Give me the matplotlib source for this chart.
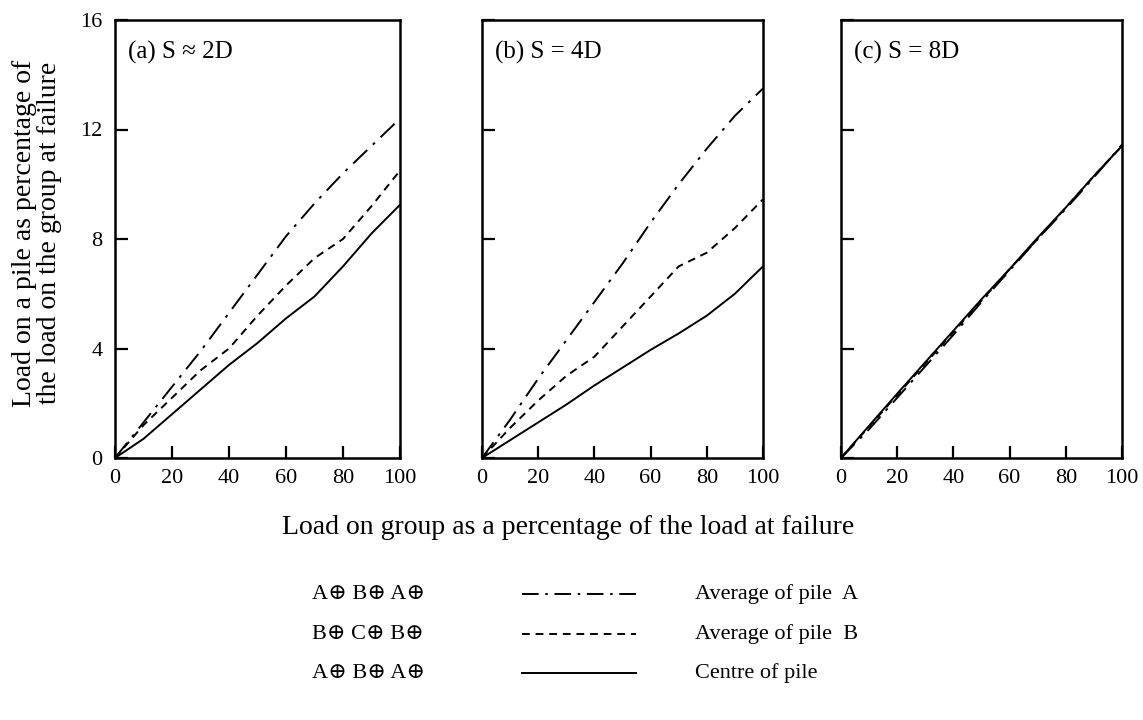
import matplotlib
matplotlib.use("Agg")
import matplotlib.pyplot as plt
from matplotlib.lines import Line2D

plt.rcParams['font.family'] = ['Liberation Serif', 'DejaVu Serif']

# Load on group (% of failure load)
x = [0, 10, 20, 30, 40, 50, 60, 70, 80, 90, 100]

# (a) S = 2D
a_pileA = [0, 1.3, 2.6, 3.9, 5.3, 6.7, 8.1, 9.3, 10.4, 11.4, 12.4]
a_pileB = [0, 1.2, 2.2, 3.2, 4.0, 5.2, 6.3, 7.3, 8.0, 9.2, 10.5]
a_centre = [0, 0.7, 1.6, 2.5, 3.4, 4.2, 5.1, 5.9, 7.0, 8.2, 9.25]

# (b) S = 4D
b_pileA = [0, 1.4, 2.9, 4.3, 5.7, 7.1, 8.6, 10.0, 11.3, 12.5, 13.5]
b_pileB = [0, 1.1, 2.1, 3.0, 3.7, 4.8, 5.9, 7.0, 7.5, 8.4, 9.45]
b_centre = [0, 0.65, 1.3, 1.95, 2.65, 3.3, 3.95, 4.55, 5.2, 6.0, 7.0]

# (c) S = 8D
c_pileA = [0, 1.05, 2.2, 3.35, 4.5, 5.7, 6.85, 8.0, 9.1, 10.25, 11.45]
c_pileB = [0, 1.15, 2.3, 3.45, 4.6, 5.75, 6.9, 8.0, 9.15, 10.3, 11.4]
c_centre = [0, 1.18, 2.35, 3.5, 4.65, 5.8, 6.9, 8.05, 9.15, 10.3, 11.4]

panel_titles = ["(a) S \u2248 2D", "(b) S = 4D", "(c) S = 8D"]
panel_data = [(a_pileA, a_pileB, a_centre),
              (b_pileA, b_pileB, b_centre),
              (c_pileA, c_pileB, c_centre)]

y_ticks = [0, 4, 8, 12, 16]
x_ticks = [0, 20, 40, 60, 80, 100]

legend_groups = ["A\u2295 B\u2295 A\u2295", "B\u2295 C\u2295 B\u2295", "A\u2295 B\u2295 A\u2295"]
legend_labels = ["Average of pile  A", "Average of pile  B", "Centre of pile"]

dashdot = (0, (10, 4, 1.5, 4))
dashed = (0, (4, 3))
styles = [dashdot, dashed, '-']
# legend sample: four dashes and three dots across the key
legend_styles = [(0, (8.56, 3.42, 1.28, 3.42)), dashed, '-']

W, H = 1143, 720
fig = plt.figure(figsize=(W / 100, H / 100), dpi=100)

lefts = [115, 482, 841]
widths = [285, 281, 281]
top_px, bot_px = 20, 458

tick_fs = 16
title_fs = 18
label_fs = 20
legend_fs = 16

for i, (lx, w) in enumerate(zip(lefts, widths)):
    ax = fig.add_axes([lx / W, 1 - bot_px / H, w / W, (bot_px - top_px) / H])
    for series, ls in zip(panel_data[i], styles):
        ax.plot(x, series, color='black', lw=1.4, linestyle=ls)
    ax.set_xlim(0, 100)
    ax.set_ylim(0, 16)
    ax.set_xticks(x_ticks)
    ax.set_yticks(y_ticks)
    ax.tick_params(direction='in', length=9, width=1.6, labelsize=tick_fs,
                   top=False, right=False)
    ax.tick_params(axis='x', pad=8)
    ax.tick_params(axis='y', pad=9)
    if i > 0:
        ax.set_yticklabels([])
    for s in ax.spines.values():
        s.set_linewidth(1.8)
    ax.text(0.045, 0.925, panel_titles[i], transform=ax.transAxes,
            fontsize=title_fs, ha='left', va='center')

fig.text(568 / W, 1 - 528 / H,
         "Load on group as a percentage of the load at failure",
         ha='center', va='center', fontsize=label_fs)
fig.text(37 / W, 1 - 233 / H,
         "Load on a pile as percentage of\nthe load on the group at failure",
         ha='center', va='center', rotation=90, fontsize=label_fs,
         linespacing=1.05)

rows_y = [594, 634, 673]
for gy, grp, lab, ls in zip(rows_y, legend_groups, legend_labels, legend_styles):
    yf = 1 - gy / H
    fig.text(312 / W, yf, grp, ha='left', va='center', fontsize=legend_fs)
    fig.add_artist(Line2D([522 / W, 636 / W], [yf, yf], color='black',
                          lw=1.4, linestyle=ls, transform=fig.transFigure))
    fig.text(695 / W, yf, lab, ha='left', va='center', fontsize=legend_fs)

fig.savefig("out.png", dpi=100)
